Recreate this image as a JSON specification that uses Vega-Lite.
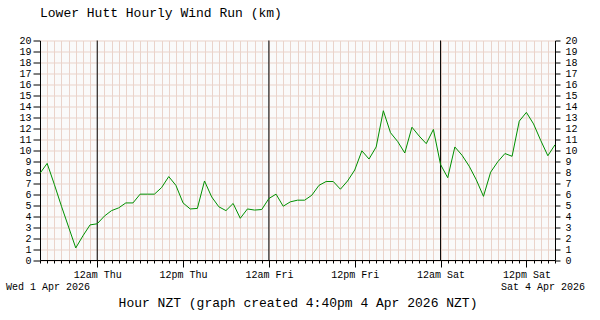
{
  "$schema": "https://vega.github.io/schema/vega-lite/v6.json",
  "width": 515,
  "height": 219.5,
  "autosize": {"type": "none"},
  "padding": {"left": 40, "top": 40.5, "right": 45, "bottom": 60},
  "background": "white",
  "config": {"view": {"fill": "#fafafa", "stroke": null}, "font": "Liberation Mono"},
  "title": {"text": "Lower Hutt Hourly Wind Run (km)", "anchor": "start", "frame": "group", "font": "Liberation Mono", "fontSize": 13, "fontWeight": "normal", "color": "black", "offset": 16},
  "datasets": {
    "wind": [
      {"hour": 0, "km": 7.9}, {"hour": 1, "km": 8.8}, {"hour": 2, "km": 6.9}, {"hour": 3, "km": 4.9},
      {"hour": 4, "km": 3.0}, {"hour": 5, "km": 1.1}, {"hour": 6, "km": 2.2}, {"hour": 7, "km": 3.2},
      {"hour": 8, "km": 3.3}, {"hour": 9, "km": 4.0}, {"hour": 10, "km": 4.5}, {"hour": 11, "km": 4.75},
      {"hour": 12, "km": 5.2}, {"hour": 13, "km": 5.2}, {"hour": 14, "km": 6.0}, {"hour": 15, "km": 6.0},
      {"hour": 16, "km": 6.0}, {"hour": 17, "km": 6.6}, {"hour": 18, "km": 7.6}, {"hour": 19, "km": 6.8},
      {"hour": 20, "km": 5.2}, {"hour": 21, "km": 4.65}, {"hour": 22, "km": 4.7}, {"hour": 23, "km": 7.2},
      {"hour": 24, "km": 5.75}, {"hour": 25, "km": 4.85}, {"hour": 26, "km": 4.5}, {"hour": 27, "km": 5.15},
      {"hour": 28, "km": 3.8}, {"hour": 29, "km": 4.65}, {"hour": 30, "km": 4.55}, {"hour": 31, "km": 4.6},
      {"hour": 32, "km": 5.6}, {"hour": 33, "km": 6.0}, {"hour": 34, "km": 4.9}, {"hour": 35, "km": 5.3},
      {"hour": 36, "km": 5.45}, {"hour": 37, "km": 5.45}, {"hour": 38, "km": 5.9}, {"hour": 39, "km": 6.8},
      {"hour": 40, "km": 7.15}, {"hour": 41, "km": 7.15}, {"hour": 42, "km": 6.45}, {"hour": 43, "km": 7.2},
      {"hour": 44, "km": 8.2}, {"hour": 45, "km": 9.95}, {"hour": 46, "km": 9.2}, {"hour": 47, "km": 10.3},
      {"hour": 48, "km": 13.6}, {"hour": 49, "km": 11.6}, {"hour": 50, "km": 10.8}, {"hour": 51, "km": 9.75},
      {"hour": 52, "km": 12.1}, {"hour": 53, "km": 11.3}, {"hour": 54, "km": 10.6}, {"hour": 55, "km": 11.9},
      {"hour": 56, "km": 8.7}, {"hour": 57, "km": 7.5}, {"hour": 58, "km": 10.3}, {"hour": 59, "km": 9.55},
      {"hour": 60, "km": 8.55}, {"hour": 61, "km": 7.3}, {"hour": 62, "km": 5.8}, {"hour": 63, "km": 8.0},
      {"hour": 64, "km": 8.95}, {"hour": 65, "km": 9.7}, {"hour": 66, "km": 9.45}, {"hour": 67, "km": 12.65},
      {"hour": 68, "km": 13.45}, {"hour": 69, "km": 12.4}, {"hour": 70, "km": 10.9}, {"hour": 71, "km": 9.5},
      {"hour": 72, "km": 10.5}
    ],
    "midnights": [{"hour": 8}, {"hour": 32}, {"hour": 56}],
    "noteLeft": [{"hour": 0, "label": "Wed 1 Apr 2026"}],
    "noteRight": [{"hour": 72, "label": "Sat 4 Apr 2026"}]
  },
  "resolve": {"axis": {"x": "independent", "y": "independent"}},
  "layer": [
    {
      "data": {"name": "midnights"},
      "mark": {"type": "rule", "color": "black", "strokeWidth": 1},
      "encoding": {
        "x": {"field": "hour", "type": "quantitative", "axis": null},
        "y": {"datum": 0, "type": "quantitative", "scale": {"domain": [0, 20], "nice": false, "zero": true},
              "axis": {"orient": "right", "values": [0,1,2,3,4,5,6,7,8,9,10,11,12,13,14,15,16,17,18,19,20], "grid": false, "title": null,
                       "domainColor": "black", "tickColor": "black", "tickSize": 5, "labelPadding": 5, "labelFont": "Liberation Mono",
                       "labelFontSize": 10, "labelColor": "black", "labelOverlap": false, "labelFlush": false}},
        "y2": {"datum": 20}
      }
    },
    {
      "data": {"name": "wind"},
      "mark": {"type": "line", "color": "#009000", "strokeWidth": 1},
      "encoding": {
        "x": {"field": "hour", "type": "quantitative", "scale": {"domain": [0, 72], "nice": false, "zero": false},
              "axis": {"values": [0,1,2,3,4,5,6,7,8,9,10,11,12,13,14,15,16,17,18,19,20,21,22,23,24,25,26,27,28,29,30,31,32,33,34,35,36,37,38,39,40,41,42,43,44,45,46,47,48,49,50,51,52,53,54,55,56,57,58,59,60,61,62,63,64,65,66,67,68,69,70,71,72],
                       "grid": true, "gridColor": "#ead3ca", "gridOpacity": 1,
                       "domainColor": "black", "tickColor": "black",
                       "tickSize": {"condition": {"test": "datum.value % 12 == 8", "value": 7}, "value": 3},
                       "labelExpr": "datum.value == 8 ? '12am Thu' : datum.value == 20 ? '12pm Thu' : datum.value == 32 ? '12am Fri' : datum.value == 44 ? '12pm Fri' : datum.value == 56 ? '12am Sat' : datum.value == 68 ? '12pm Sat' : ''",
                       "labelFont": "Liberation Mono", "labelFontSize": 10, "labelColor": "black", "labelPadding": 2,
                       "labelOverlap": false, "labelFlush": false,
                       "title": "Hour NZT (graph created 4:40pm 4 Apr 2026 NZT)", "titleFont": "Liberation Mono", "titleFontSize": 13,
                       "titleFontWeight": "normal", "titleColor": "black", "titlePadding": 17}},
        "y": {"field": "km", "type": "quantitative", "scale": {"domain": [0, 20], "nice": false, "zero": true},
              "axis": {"orient": "left", "values": [0,1,2,3,4,5,6,7,8,9,10,11,12,13,14,15,16,17,18,19,20], "grid": true,
                       "gridColor": "#ead3ca", "gridOpacity": 1, "title": null,
                       "domainColor": "black", "tickColor": "black", "tickSize": 7, "labelPadding": 2,
                       "labelFont": "Liberation Mono", "labelFontSize": 10, "labelColor": "black", "labelOverlap": false, "labelFlush": false}}
      }
    },
    {
      "data": {"name": "noteLeft"},
      "mark": {"type": "text", "font": "Liberation Mono", "fontSize": 10, "color": "black", "baseline": "middle", "align": "left", "dx": -34, "dy": 27},
      "encoding": {
        "x": {"field": "hour", "type": "quantitative", "axis": null},
        "y": {"datum": 0, "type": "quantitative", "axis": null},
        "text": {"field": "label"}
      }
    },
    {
      "data": {"name": "noteRight"},
      "mark": {"type": "text", "font": "Liberation Mono", "fontSize": 10, "color": "black", "baseline": "middle", "align": "right", "dx": 30, "dy": 27},
      "encoding": {
        "x": {"field": "hour", "type": "quantitative", "axis": null},
        "y": {"datum": 0, "type": "quantitative", "axis": null},
        "text": {"field": "label"}
      }
    }
  ]
}
